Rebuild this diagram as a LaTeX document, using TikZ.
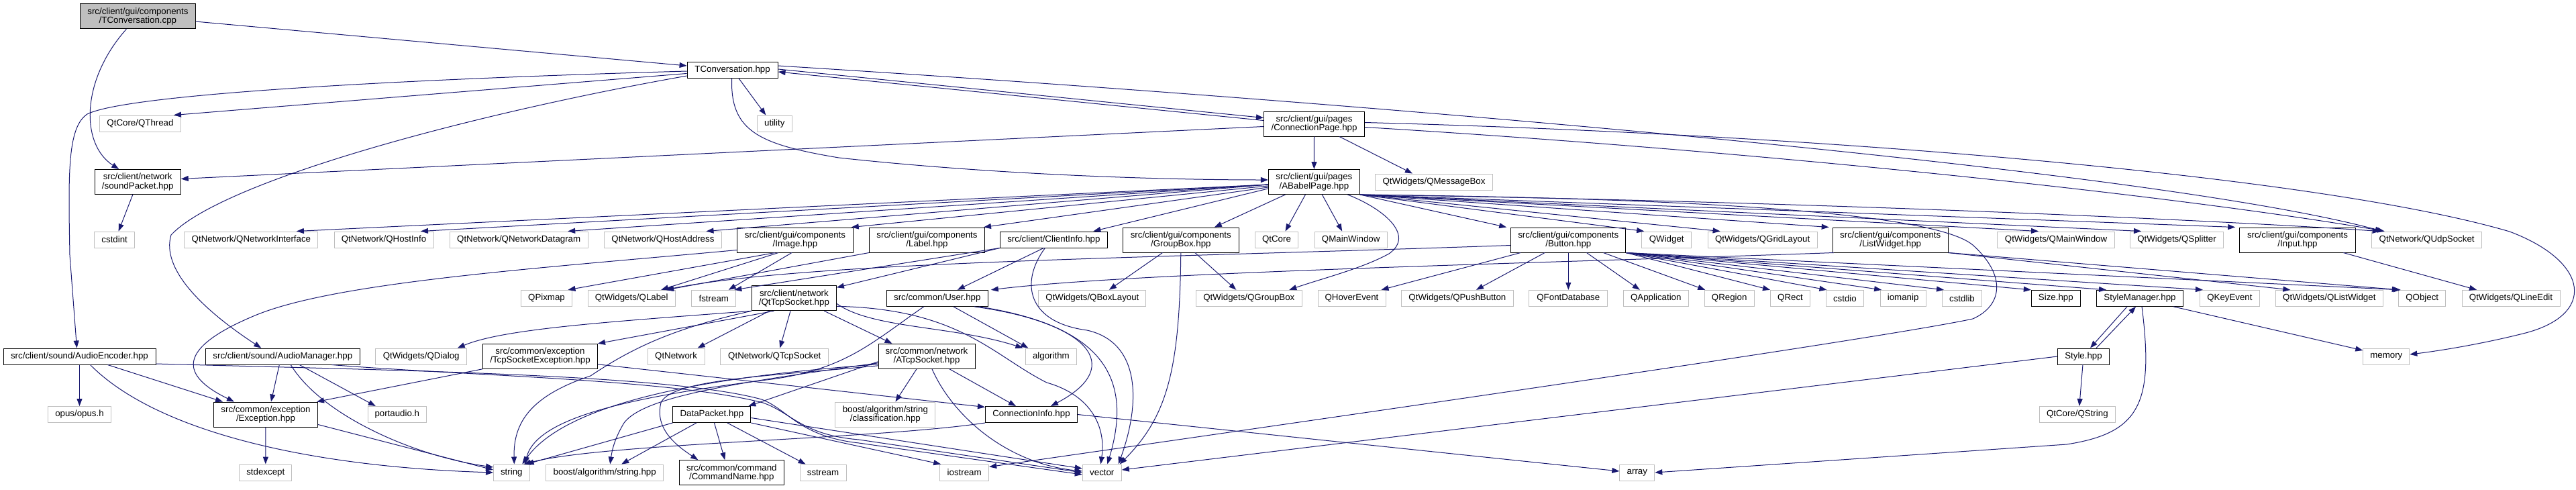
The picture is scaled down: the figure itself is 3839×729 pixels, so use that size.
\documentclass[tikz,border=0pt]{standalone}
\usepackage{fontspec}
\setmainfont{Liberation Sans}
\usetikzlibrary{arrows.meta}
\definecolor{edgec}{RGB}{25,25,112}
\definecolor{extc}{RGB}{191,191,191}
\definecolor{rootfill}{RGB}{191,191,191}
\tikzset{
  nb/.style={rectangle, inner sep=0pt, align=center, font=\fontsize{13.3}{13.3}\selectfont, minimum height=24pt, line width=1pt},
  ext/.style={nb, draw=extc, fill=white},
  int/.style={nb, draw=black, fill=white},
  root/.style={nb, draw=black, fill=rootfill},
  two/.style={minimum height=37pt},
  e/.style={draw=edgec, line width=1pt, -{Triangle[length=11pt,width=8pt]}},
}
\begin{document}
\begin{tikzpicture}[x=1pt,y=-1pt]
\useasboundingbox (0,0) rectangle (3839,729);
% ---------- nodes ----------
\node[root,two,minimum width=172pt] (cpp) at (205.4,24.3) {src/client/gui/components\\/TConversation.cpp};
\node[int,minimum width=135pt] (tch) at (1091.6,104) {TConversation.hpp};
\node[ext,minimum width=121pt] (qthread) at (209,184) {QtCore/QThread};
\node[ext,minimum width=52pt] (utility) at (1154.3,184) {utility};
\node[int,two,minimum width=150pt] (cp) at (1958.5,184.5) {src/client/gui/pages\\/ConnectionPage.hpp};
\node[int,two,minimum width=128pt] (sp) at (205.2,271) {src/client/network\\/soundPacket.hpp};
\node[int,two,minimum width=136pt] (abp) at (1958.4,271) {src/client/gui/pages\\/ABabelPage.hpp};
\node[ext,minimum width=175pt] (qmsg) at (2137,271) {QtWidgets/QMessageBox};
% row 357
\node[ext,minimum width=60pt] (cstdint) at (170.7,357) {cstdint};
\node[ext,minimum width=199pt] (qni) at (374.4,357) {QtNetwork/QNetworkInterface};
\node[ext,minimum width=148pt] (qhi) at (572,357) {QtNetwork/QHostInfo};
\node[ext,minimum width=206pt] (qnd) at (773.2,357) {QtNetwork/QNetworkDatagram};
\node[ext,minimum width=175pt] (qha) at (987.9,357) {QtNetwork/QHostAddress};
\node[int,two,minimum width=172.5pt] (image) at (1185,357.5) {src/client/gui/components\\/Image.hpp};
\node[int,two,minimum width=172pt] (label) at (1381.5,357.5) {src/client/gui/components\\/Label.hpp};
\node[int,minimum width=160pt] (clientinfo) at (1570.4,357) {src/client/ClientInfo.hpp};
\node[int,two,minimum width=172.5pt] (groupbox) at (1759.8,357.5) {src/client/gui/components\\/GroupBox.hpp};
\node[ext,minimum width=64pt] (qtcore) at (1902.5,357) {QtCore};
\node[ext,minimum width=108pt] (qmainwin) at (2013.2,357) {QMainWindow};
\node[int,two,minimum width=171.3pt] (button) at (2337.3,357.5) {src/client/gui/components\\/Button.hpp};
\node[ext,minimum width=74pt] (qwidget) at (2483.7,357) {QWidget};
\node[ext,minimum width=163pt] (qgrid) at (2626.6,357) {QtWidgets/QGridLayout};
\node[int,two,minimum width=172pt] (listwidget) at (2817.2,357.5) {src/client/gui/components\\/ListWidget.hpp};
\node[ext,minimum width=175pt] (qwmainwin) at (3064,357) {QtWidgets/QMainWindow};
\node[ext,minimum width=139pt] (qsplitter) at (3244,357) {QtWidgets/QSplitter};
\node[int,two,minimum width=172.6pt] (input) at (3424,357.5) {src/client/gui/components\\/Input.hpp};
\node[ext,minimum width=164pt] (qudp) at (3616.6,357) {QtNetwork/QUdpSocket};
% row 444
\node[ext,minimum width=76pt] (qpixmap) at (814.5,444.3) {QPixmap};
\node[ext,minimum width=130pt] (qlabel) at (941.2,444.3) {QtWidgets/QLabel};
\node[ext,minimum width=66pt] (fstream) at (1063.8,444.3) {fstream};
\node[int,two,minimum width=126pt] (qttcp) at (1183.4,444.3) {src/client/network\\/QtTcpSocket.hpp};
\node[int,minimum width=151pt] (user) at (1396.8,444.3) {src/common/User.hpp};
\node[ext,minimum width=160pt] (qboxlayout) at (1627.9,444.3) {QtWidgets/QBoxLayout};
\node[ext,minimum width=158pt] (qgroupbox) at (1861.3,444.3) {QtWidgets/QGroupBox};
\node[ext,minimum width=101pt] (qhover) at (2014.5,444.3) {QHoverEvent};
\node[ext,minimum width=167pt] (qpush) at (2171.9,444.3) {QtWidgets/QPushButton};
\node[ext,minimum width=117pt] (qfontdb) at (2337.3,444.3) {QFontDatabase};
\node[ext,minimum width=97pt] (qapp) at (2467.8,444.3) {QApplication};
\node[ext,minimum width=74pt] (qregion) at (2577.2,444.3) {QRegion};
\node[ext,minimum width=59pt] (qrect) at (2668,444.3) {QRect};
\node[ext,minimum width=56pt] (cstdio) at (2749.4,444.3) {cstdio};
\node[ext,minimum width=68pt] (iomanip) at (2836.1,444.3) {iomanip};
\node[ext,minimum width=59pt] (cstdlib) at (2924,444.3) {cstdlib};
\node[int,minimum width=73pt] (size) at (3063.8,444.3) {Size.hpp};
\node[int,minimum width=129pt] (stylemgr) at (3189,444.3) {StyleManager.hpp};
\node[ext,minimum width=89pt] (qkeyevent) at (3322.9,444.3) {QKeyEvent};
\node[ext,minimum width=160pt] (qlistwidget) at (3471.3,444.3) {QtWidgets/QListWidget};
\node[ext,minimum width=70pt] (qobject) at (3609.7,444.3) {QObject};
\node[ext,minimum width=146pt] (qlineedit) at (3742,444.3) {QtWidgets/QLineEdit};
% row 531
\node[int,minimum width=227pt] (audioenc) at (118.5,531) {src/client/sound/AudioEncoder.hpp};
\node[int,minimum width=230pt] (audiomgr) at (421.3,531) {src/client/sound/AudioManager.hpp};
\node[ext,minimum width=136pt] (qdialog) at (627.7,531) {QtWidgets/QDialog};
\node[int,two,minimum width=171pt] (tcpexc) at (805,530.8) {src/common/exception\\/TcpSocketException.hpp};
\node[ext,minimum width=85pt] (qtnetwork) at (1007.6,531) {QtNetwork};
\node[ext,minimum width=161pt] (qtcpsocket) at (1154.3,531) {QtNetwork/QTcpSocket};
\node[int,two,minimum width=144pt] (atcp) at (1381,530.8) {src/common/network\\/ATcpSocket.hpp};
\node[ext,minimum width=76pt] (algorithm) at (1566.4,531) {algorithm};
\node[int,minimum width=77pt] (style) at (3105,531) {Style.hpp};
\node[ext,minimum width=69pt] (memory) at (3556.3,531) {memory};
% row 617
\node[ext,minimum width=94pt] (opus) at (118.5,617.5) {opus/opus.h};
\node[int,two,minimum width=155pt] (exception) at (396,617.5) {src/common/exception\\/Exception.hpp};
\node[ext,minimum width=87.5pt] (portaudio) at (591.8,617.5) {portaudio.h};
\node[int,minimum width=116pt] (datapacket) at (1060.9,617.5) {DataPacket.hpp};
\node[ext,two,minimum width=149pt] (boostclass) at (1319.4,617.5) {boost/algorithm/string\\/classification.hpp};
\node[int,minimum width=137pt] (conninfo) at (1537,617.5) {ConnectionInfo.hpp};
\node[ext,minimum width=113pt] (qstring) at (3095.8,617.5) {QtCore/QString};
% row 704
\node[ext,minimum width=78pt] (stdexcept) at (395.8,704) {stdexcept};
\node[ext,minimum width=53.5pt] (string) at (762.3,704) {string};
\node[ext,minimum width=175pt] (booststr) at (901.2,704) {boost/algorithm/string.hpp};
\node[int,two,minimum width=156pt] (cmdname) at (1090.3,704.2) {src/common/command\\/CommandName.hpp};
\node[ext,minimum width=69pt] (sstream) at (1226.5,704) {sstream};
\node[ext,minimum width=73pt] (iostream) at (1437.2,704) {iostream};
\node[ext,minimum width=58pt] (vector) at (1642.3,704) {vector};
\node[ext,minimum width=52pt] (array) at (2439.8,704) {array};
% ---------- edges ----------
% TConversation.cpp
\draw[e] (cpp) -- (tch);
\draw[e] ([xshift=-17]cpp.south) .. controls (120,120) and (120,215) .. ([xshift=-28]sp.north);
% TConversation.hpp
\draw[e] (tch) -- ([xshift=50]qthread.north);
\draw[e] (tch) -- ([xshift=-13]utility.north);
\draw[e] ([yshift=-2]tch.west) .. controls (600,118) and (190,140) .. (130,170) .. controls (100,190) and (102,260) .. (104,380) -- ([xshift=-4]audioenc.north);
\draw[e] ([yshift=-9]tch.west) .. controls (700,170) and (330,270) .. (255,350) .. controls (240,400) and (300,460) .. ([xshift=-32]audiomgr.north);
\draw[e] ([yshift=1]tch.east) -- ([yshift=9]cp.west);
\draw[e] ([xshift=-1]tch.south) .. controls (1088,195) and (1130,215) .. (1250,235) .. controls (1500,262) and (1750,268) .. ([yshift=3]abp.west);
\draw[e] ([yshift=6]tch.east) .. controls (2000,150) and (3200,250) .. ([xshift=-66]qudp.north);
% ConnectionPage
\draw[e] ([yshift=5]cp.west) -- ([yshift=-3]tch.east);
\draw[e] ([yshift=-4]cp.west) -- ([yshift=4.5]sp.east);
\draw[e] (cp) -- (abp);
\draw[e] (cp) -- ([xshift=-32]qmsg.north);
\draw[e] ([yshift=2]cp.east) .. controls (2700,200) and (3450,260) .. (3740,345) .. controls (3860,390) and (3870,470) .. (3760,497) .. controls (3700,512) and (3640,522) .. ([yshift=3]memory.east);
\draw[e] ([yshift=-5]cp.east) .. controls (2700,230) and (3300,300) .. ([xshift=-63]qudp.north);
% soundPacket
\draw[e] (sp) -- ([xshift=6]cstdint.north);
% ABabelPage
\draw[e] ([yshift=-4]abp.west) -- ([xshift=67.5]qni.north);
\draw[e] ([yshift=-4]abp.west) -- ([xshift=55]qhi.north);
\draw[e] ([yshift=-4]abp.west) -- ([xshift=73]qnd.north);
\draw[e] ([yshift=-4]abp.west) -- ([xshift=64.6]qha.north);
\draw[e] ([yshift=-6]abp.west) -- ([xshift=-3]image.north east);
\draw[e] ([yshift=-8]abp.west) -- ([xshift=-2]label.north east);
\draw[e] ([yshift=-10]abp.west) -- ([xshift=59]clientinfo.north);
\draw[e] ([xshift=-43]abp.south) -- ([xshift=50]groupbox.north);
\draw[e] ([xshift=-13]abp.south) -- ([xshift=13]qtcore.north);
\draw[e] ([xshift=12]abp.south) -- ([xshift=-13]qmainwin.north);
\draw[e] ([xshift=50]abp.south) .. controls (2060,310) and (2110,350) .. (2070,378) .. controls (2030,400) and (1970,415) .. ([xshift=60]qgroupbox.north);
\draw[e] (abp.south east) -- ([xshift=-6]button.north west);
\draw[e] (abp.south east) -- ([xshift=4]qwidget.north west);
\draw[e] (abp.south east) -- ([xshift=19]qgrid.north west);
\draw[e] (abp.south east) -- ([xshift=-5]listwidget.north west);
\draw[e] (abp.south east) -- ([xshift=-26]qwmainwin.north);
\draw[e] (abp.south east) -- ([xshift=-53]qsplitter.north);
\draw[e] (abp.south east) -- ([xshift=-6]input.north west);
\draw[e] (abp.south east) .. controls (2700,300) and (3300,328) .. ([xshift=-70]qudp.north);
\draw[e] (abp.south east) .. controls (2500,295) and (2880,315) .. (2940,365) .. controls (2990,410) and (2985,455) .. (2940,475) .. controls (2800,505) and (2000,620) .. ([yshift=-4]iostream.north east);
% Button
\draw[e] (button) -- ([xshift=44]qhover.north);
\draw[e] (button) -- ([xshift=28]qpush.north);
\draw[e] (button) -- (qfontdb);
\draw[e] (button) -- ([xshift=-24]qapp.north);
\draw[e] (button) -- ([xshift=-36]qregion.north);
\draw[e] (button.south east) -- ([xshift=-30]qrect.north);
\draw[e] (button.south east) -- ([xshift=-27]cstdio.north);
\draw[e] (button.south east) -- ([xshift=-32]iomanip.north);
\draw[e] (button.south east) -- ([xshift=-27]cstdlib.north);
\draw[e] (button.south east) -- ([xshift=-37]size.north);
\draw[e] (button.south east) -- ([xshift=-50]stylemgr.north);
\draw[e] (button.south east) -- ([xshift=-40]qkeyevent.north);
\draw[e] (button.south east) -- ([xshift=-32]qobject.north);
\draw[e] ([yshift=-8]button.west) .. controls (1700,385) and (1200,390) .. ([xshift=50]qlabel.north);
% ListWidget
\draw[e] ([xshift=2]listwidget.south west) .. controls (2300,392) and (1700,405) .. ([xshift=4]user.north east);
\draw[e] (listwidget.south east) -- ([xshift=-58]qlistwidget.north);
\draw[e] (listwidget.south east) -- ([xshift=-34]qobject.north);
% Input
\draw[e] (input) -- ([xshift=-51]qlineedit.north);
% Image
\draw[e] ([xshift=-30]image.south) -- ([xshift=32]qpixmap.north);
\draw[e] ([xshift=-25]image.south) -- ([xshift=44]qlabel.north);
\draw[e] ([xshift=-5]image.south) -- ([xshift=22]fstream.north);
\draw[e] ([yshift=-15]image.west) .. controls (800,400) and (500,420) .. (380,470) .. controls (260,520) and (270,560) .. ([xshift=-47]exception.north);
% Label
\draw[e] (label.south west) -- ([xshift=52]qlabel.north);
% ClientInfo
\draw[e] (clientinfo.south west) -- ([yshift=-3]qttcp.north east);
\draw[e] (clientinfo.south west) -- ([xshift=-3]fstream.north east);
\draw[e] ([xshift=-15]clientinfo.south) -- ([xshift=30]user.north);
\draw[e] ([xshift=-13]clientinfo.south) .. controls (1520,420) and (1530,480) .. (1620,492) .. controls (1700,510) and (1700,600) .. ([xshift=-5]vector.north east);
% GroupBox
\draw[e] (groupbox) -- ([xshift=25]qboxlayout.north);
\draw[e] (groupbox) -- ([xshift=-19]qgroupbox.north);
\draw[e] (groupbox.south) .. controls (1758,550) and (1740,620) .. ([xshift=-3]vector.north east);
% QtTcpSocket
\draw[e] (qttcp.south west) .. controls (900,480) and (750,490) .. ([xshift=54]qdialog.north);
\draw[e] ([xshift=-30]qttcp.south) -- (tcpexc.north east);
\draw[e] (qttcp.south west) .. controls (1000,490) and (940,520) .. (880,560) .. controls (790,590) and (765,630) .. ([xshift=4]string.north);
\draw[e] (qttcp) -- ([xshift=32]qtnetwork.north);
\draw[e] (qttcp) -- ([xshift=8]qtcpsocket.north);
\draw[e] ([xshift=45]qttcp.south) -- ([xshift=21]atcp.north west);
\draw[e] ([yshift=-8]qttcp.east) .. controls (1300,490) and (1420,485) .. ([xshift=-42]algorithm.north);
\draw[e] ([yshift=-12]qttcp.east) .. controls (1430,460) and (1480,530) .. (1560,570) .. controls (1630,590) and (1648,640) .. ([xshift=-2]vector.north);
% TcpSocketException
\draw[e] (tcpexc.south west) -- ([xshift=-2]exception.north east);
\draw[e] ([yshift=-12]tcpexc.east) -- ([yshift=11]conninfo.west);
% ATcpSocket
\draw[e] ([xshift=-15]atcp.south) -- ([xshift=15]boostclass.north);
\draw[e] ([xshift=34]atcp.south) -- ([xshift=-23]conninfo.north);
\draw[e] ([xshift=8]atcp.south) .. controls (1420,620) and (1500,690) .. ([yshift=2]vector.west);
\draw[e] ([yshift=-12]atcp.west) .. controls (1100,558) and (850,590) .. ([xshift=16]string.north);
\draw[e] ([yshift=-8]atcp.west) -- ([xshift=-4]datapacket.north east);
\draw[e] ([yshift=-14]atcp.west) .. controls (1150,560) and (1000,565) .. (985,600) .. controls (975,640) and (1010,665) .. ([xshift=-50]cmdname.north);
\draw[e] ([yshift=-10]atcp.west) .. controls (1100,570) and (960,590) .. (930,630) .. controls (915,655) and (912,672) .. ([xshift=8]booststr.north);
% DataPacket
\draw[e] (datapacket.south west) -- ([xshift=-5]string.north east);
\draw[e] ([xshift=-23]datapacket.south) -- ([xshift=25]booststr.north);
\draw[e] (datapacket) -- ([xshift=-10]cmdname.north);
\draw[e] ([xshift=23]datapacket.south) -- ([xshift=-26]sstream.north);
\draw[e] (datapacket.south east) -- ([xshift=2]iostream.north west);
\draw[e] ([yshift=-5]datapacket.east) -- ([yshift=6]vector.west);
% User
\draw[e] ([xshift=24]user.south) -- ([xshift=-34]algorithm.north);
\draw[e] ([xshift=-20]user.south) .. controls (1300,510) and (1260,550) .. (1150,565) .. controls (950,590) and (800,620) .. ([xshift=20]string.north);
\draw[e] ([xshift=55]user.south) .. controls (1620,480) and (1680,545) .. ([xshift=29]conninfo.north);
\draw[e] ([xshift=62]user.south) .. controls (1640,485) and (1690,560) .. ([xshift=8]vector.north);
% ConnectionInfo
\draw[e] (conninfo.south west) .. controls (1300,655) and (900,660) .. ([xshift=18]string.north);
\draw[e] (conninfo.east) -- ([yshift=2]array.west);
% Exception
\draw[e] (exception) -- (stdexcept);
\draw[e] ([yshift=-15]exception.east) -- ([yshift=4]string.west);
% AudioEncoder
\draw[e] (audioenc) -- (opus);
\draw[e] ([xshift=42]audioenc.south) -- ([xshift=14]exception.north west);
\draw[e] ([xshift=16]audioenc.south) .. controls (230,640) and (450,695) .. (string.west);
\draw[e] ([yshift=-11]audioenc.east) .. controls (600,552) and (1000,558) .. (1135,595) .. controls (1175,610) and (1190,650) .. (1280,660) -- ([yshift=-3]vector.west);
% AudioManager
\draw[e] ([xshift=-5]audiomgr.south) -- ([xshift=8]exception.north);
\draw[e] ([xshift=25]audiomgr.south) -- ([xshift=-32]portaudio.north);
\draw[e] ([xshift=12]audiomgr.south) .. controls (480,620) and (620,680) .. ([yshift=8]string.west);
\draw[e] ([xshift=73]audiomgr.south) .. controls (700,560) and (1000,565) .. (1137,600) .. controls (1180,615) and (1195,648) .. (1280,655) -- (vector.west);
% Style / StyleManager
\draw[e] ([xshift=-19]stylemgr.south) -- ([xshift=10]style.north);
\draw[e] ([xshift=19]style.north) -- ([xshift=-6]stylemgr.south);
\draw[e] ([xshift=50]stylemgr.south) -- ([yshift=9]memory.west);
\draw[e] ([xshift=3]stylemgr.south) .. controls (3210,600) and (3190,645) .. (3080,662) -- (array.east);
\draw[e] (style) -- ([xshift=3]qstring.north);
\draw[e] (style.west) -- ([yshift=4]vector.east);
\end{tikzpicture}
\end{document}
